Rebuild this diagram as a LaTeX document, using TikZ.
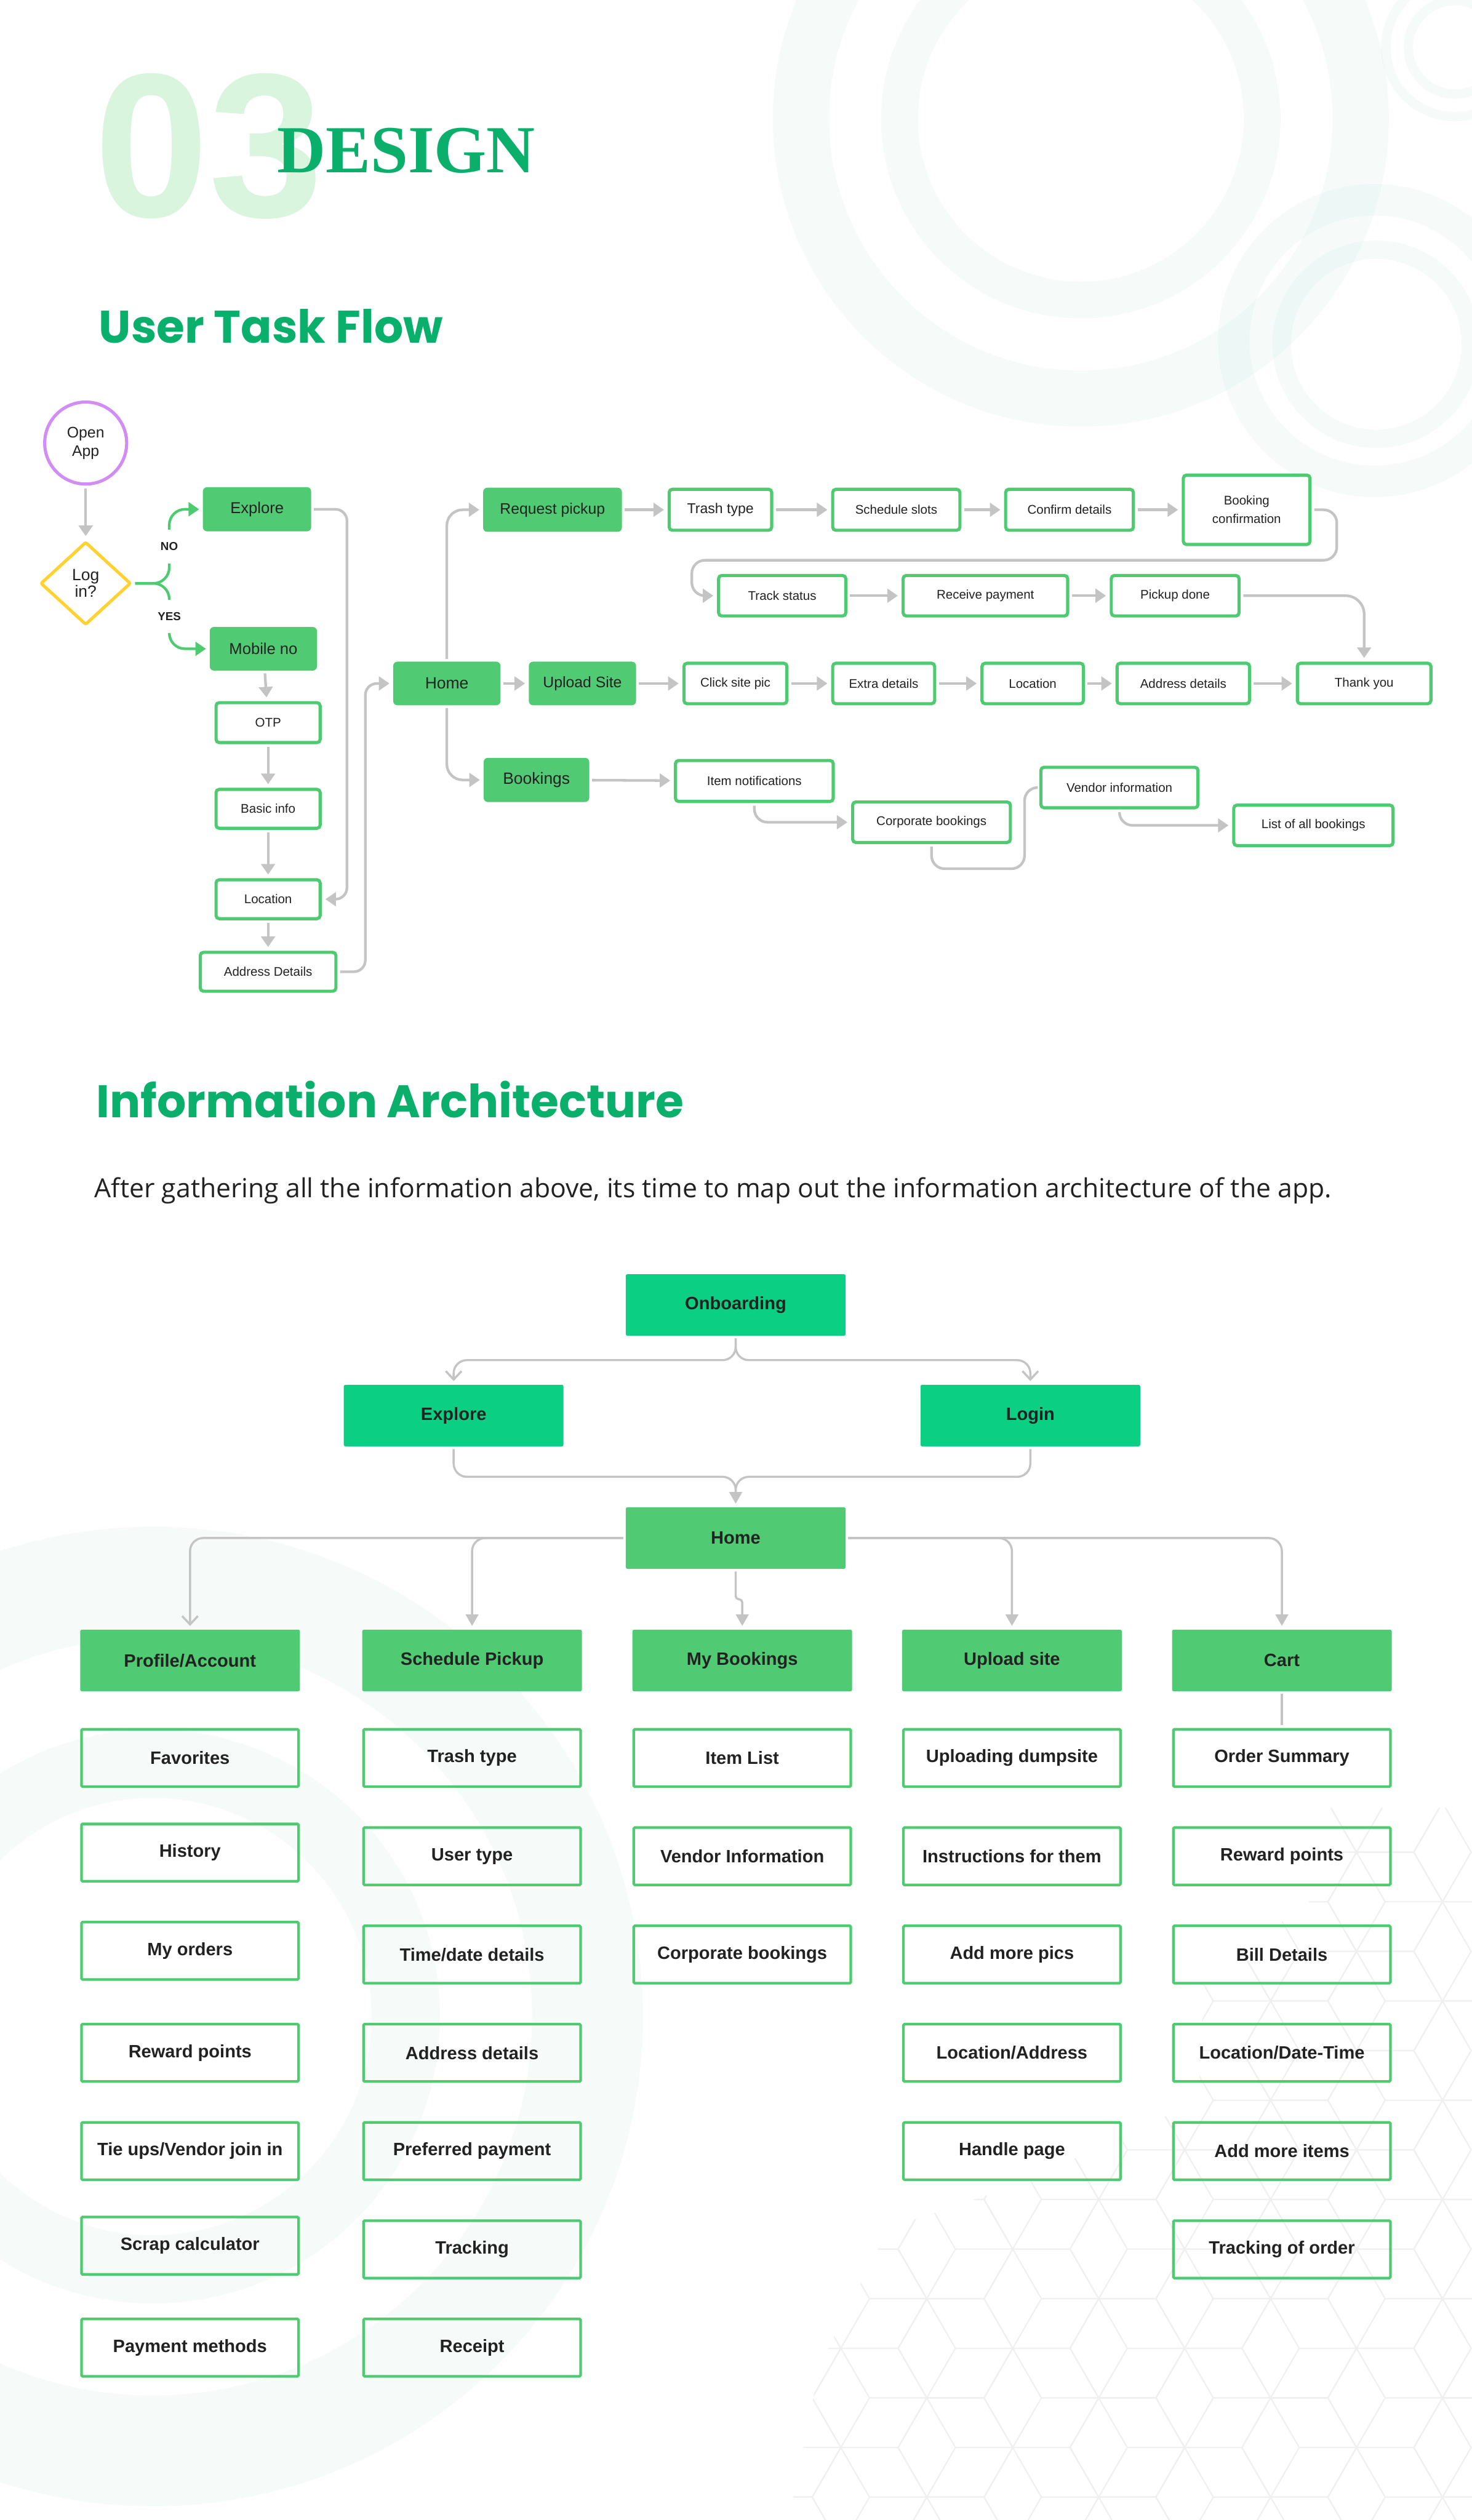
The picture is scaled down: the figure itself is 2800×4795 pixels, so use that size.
\documentclass[tikz,border=0pt]{standalone}
\usepackage{fontspec}
\setmainfont{Liberation Sans}
\newfontfamily\titlefont{Poppins}
\newfontfamily\serifbold{Liberation Serif}
\newfontfamily\parafont{Open Sans}
\usetikzlibrary{arrows.meta,shapes.geometric}
\definecolor{fgreen}{HTML}{50CB74}
\definecolor{sgreen}{HTML}{4ECB71}
\definecolor{tgreen}{HTML}{0BCF83}
\definecolor{titlegreen}{HTML}{0BAF6C}
\definecolor{palegreen}{HTML}{D9F5DE}
\definecolor{ink}{HTML}{222222}
\definecolor{conn}{HTML}{C4C4C4}
\definecolor{purp}{HTML}{D18CF6}
\definecolor{yell}{HTML}{FFD131}
\definecolor{ringc}{RGB}{0,150,140}
\definecolor{hexc}{HTML}{F0F0F0}
\newcommand{\fsz}[1]{\fontsize{#1}{#1}\selectfont}
\begin{document}
\begin{tikzpicture}[x=1pt,y=-1pt,
  tfbase/.style={text=ink, align=center, inner sep=0pt, font=\fsz{24}},
  tfill/.style={tfbase, fill=fgreen, rounded corners=8pt, font=\fsz{30}},
  tbox/.style={tfbase, draw=sgreen, line width=6pt, fill=white, rounded corners=6pt},
  arr/.style={draw=conn, line width=5pt, -{Triangle[length=20pt,width=26pt]}, shorten >=7pt, shorten <=5pt, rounded corners=25pt},
  cline/.style={draw=conn, line width=5pt, shorten <=5pt, rounded corners=25pt},
  garr/.style={draw=sgreen, line width=5pt, -{Triangle[length=20pt,width=26pt]}, shorten >=7pt, shorten <=5pt, rounded corners=30pt},
  lbl/.style={fill=white, font=\bfseries\fsz{22}, text=ink, minimum height=64pt, inner xsep=6pt, inner ysep=0pt},
  iafill/.style={fill=tgreen, text=ink, font=\bfseries\fsz{34}, minimum width=418pt, minimum height=117pt, rounded corners=3pt, inner sep=0pt},
  iahead/.style={iafill, fill=fgreen},
  iabox/.style={draw=sgreen, line width=5pt, text=ink, font=\bfseries\fsz{34}, minimum width=413pt, minimum height=109pt, rounded corners=2pt, inner sep=0pt},
  iarr/.style={draw=conn, line width=4pt, rounded corners=25pt, -{Triangle[length=22pt,width=24pt]}, shorten >=7pt, shorten <=5pt},
  iav/.style={draw=conn, line width=4pt, rounded corners=25pt, -{Straight Barb[length=16pt,width=30pt]}, shorten >=7pt, shorten <=5pt},
  ring/.style={draw=ringc, draw opacity=0.035},
  hexl/.style={draw=hexc, line width=2.5pt}
]
\useasboundingbox (0,0) rectangle (2800,4795);
\fill[white] (0,0) rectangle (2800,4795);

% ---------- background decoration ----------
\begin{scope}
\clip (0,0) rectangle (2800,4795);
\draw[ring, line width=107pt] (2056,226) circle[radius=532.5pt];
\draw[ring, line width=70pt] (2056,226) circle[radius=345pt];
\draw[ring, line width=60pt] (2615,648) circle[radius=268pt];
\draw[ring, line width=35pt] (2618,655) circle[radius=180pt];
\draw[ring, line width=18pt] (2768,90) circle[radius=132pt];
\draw[ring, line width=18pt] (2768,90) circle[radius=89pt];
\draw[ring, line width=211pt] (291,3837) circle[radius=826.5pt];
\draw[ring, line width=130pt] (291,3837) circle[radius=481pt];
\end{scope}
\begin{scope}
\clip (2800,3440) -- (2520,3440) -- (2490,3620) -- (2290,3760) -- (2280,4000) -- (2140,4060) -- (1960,4150) -- (1690,4240) -- (1560,4500) -- (1500,4795) -- (2800,4795) -- cycle;
\foreach \m in {-5,...,6}{
  \foreach \n in {-8,...,6}{
    \pgfmathsetmacro\cx{1981+163.5*\m}
    \pgfmathsetmacro\cy{4185+94.4*\m+188.8*\n}
    \draw[hexl] (\cx+109,\cy) -- ++(-54.5,94.4) -- ++(-109,0) -- ++(-54.5,-94.4) -- ++(54.5,-94.4) -- ++(109,0) -- cycle
      (\cx,\cy) -- ++(109,0) (\cx,\cy) -- ++(-54.5,94.4) (\cx,\cy) -- ++(-54.5,-94.4);
  }
}
\end{scope}

% ---------- header ----------
\node[anchor=base west, inner sep=0pt, text=palegreen, font=\bfseries\fsz{391}] (num) at (180,413) {03};
\node[anchor=base west, inner sep=0pt, text=titlegreen, font=\serifbold\bfseries\fsz{128}] (design) at (527,328) {DESIGN};
\node[anchor=base west, inner sep=0pt, text=titlegreen, font=\titlefont\bfseries\fsz{87}] (t1) at (188,653) {User Task Flow};

% ---------- user task flow ----------
\node[circle, draw=purp, line width=6pt, minimum size=156pt, inner sep=0pt, text=ink, align=center, font=\fontsize{29}{35}\selectfont] (open) at (163,843) {Open\\App};
\node[diamond, draw=yell, line width=6pt, minimum width=172pt, minimum height=158pt, inner sep=0pt, rounded corners=3pt, align=center, text=ink, font=\fontsize{31}{32}\selectfont] (login) at (163,1110) {Log\\in?};

\node[tfill, minimum width=206pt, minimum height=84pt] (explore) at (489,969) {Explore};
\node[tfill, minimum width=204pt, minimum height=83pt] (mobile) at (501,1234.5) {Mobile no};
\node[tbox, minimum width=198pt, minimum height=76pt] (otp) at (510,1375) {OTP};
\node[tbox, minimum width=198pt, minimum height=74pt] (basic) at (510,1539) {Basic info};
\node[tbox, minimum width=198pt, minimum height=74pt] (loc1) at (510,1711) {Location};
\node[tbox, minimum width=258pt, minimum height=74pt] (addr1) at (510,1849) {Address Details};

\node[tfill, minimum width=204pt, minimum height=83pt, font=\fsz{31}] (home) at (850,1300.5) {Home};
\node[tfill, minimum width=264pt, minimum height=84pt, font=\fsz{29}] (req) at (1051,970) {Request pickup};
\node[tbox, minimum width=195pt, minimum height=78pt, font=\fsz{27}] (trash) at (1370.5,970) {Trash type};
\node[tbox, minimum width=242pt, minimum height=78pt] (sched) at (1705,970) {Schedule slots};
\node[tbox, minimum width=243pt, minimum height=78pt] (confirm) at (2034.5,970) {Confirm details};
\node[tbox, minimum width=241pt, minimum height=132pt, font=\fontsize{24}{35}\selectfont] (booking) at (2371.5,970) {Booking\\confirmation};
\node[tbox, minimum width=242pt, minimum height=77pt] (track) at (1488,1133.5) {Track status};
\node[tbox, minimum width=313pt, minimum height=77pt] (receive) at (1874.5,1133.5) {Receive payment};
\node[tbox, minimum width=243pt, minimum height=77pt] (pickup) at (2235.5,1133.5) {Pickup done};

\node[tfill, minimum width=204pt, minimum height=83pt, font=\fsz{29}] (upload) at (1108,1300.5) {Upload Site};
\node[tbox, minimum width=196pt, minimum height=77pt] (click) at (1399,1300.5) {Click site pic};
\node[tbox, minimum width=194pt, minimum height=77pt] (extra) at (1681,1300.5) {Extra details};
\node[tbox, minimum width=193pt, minimum height=77pt] (loc2) at (1964.5,1300.5) {Location};
\node[tbox, minimum width=252pt, minimum height=77pt] (addr2) at (2251,1300.5) {Address details};
\node[tbox, minimum width=254pt, minimum height=77pt] (thank) at (2595,1300.5) {Thank you};

\node[tfill, minimum width=201pt, minimum height=84pt, font=\fsz{31}] (bookings) at (1020.5,1484) {Bookings};
\node[tbox, minimum width=300pt, minimum height=78pt] (itemn) at (1435,1486) {Item notifications};
\node[tbox, minimum width=300pt, minimum height=77pt] (corp) at (1772,1564.5) {Corporate bookings};
\node[tbox, minimum width=299pt, minimum height=77pt] (vendor) at (2129.5,1498.5) {Vendor information};
\node[tbox, minimum width=303pt, minimum height=77pt] (listall) at (2498.5,1570.5) {List of all bookings};

% connectors (task flow)
\draw[arr, shorten <=6pt, shorten >=8pt] (open) -- (login);
\draw[garr] (login.east) -- (322,1110) -- (322,969) -- (explore.west);
\draw[garr] (login.east) -- (322,1110) -- (322,1234.5) -- (mobile.west);
\node[lbl] (nolbl) at (322,1040) {NO};
\node[lbl] (yeslbl) at (322,1173) {YES};
\draw[arr] (mobile) -- (otp);
\draw[arr] (otp) -- (basic);
\draw[arr] (basic) -- (loc1);
\draw[arr] (loc1) -- (addr1);
\draw[arr, rounded corners=22pt] (explore.east) -- (660,969) -- (660,1711) -- (loc1.east);
\draw[arr, rounded corners=22pt] (addr1.east) -- (695,1849) -- (695,1300.5) -- (home.west);
\draw[arr, rounded corners=30pt] (home.north) -- (850,970) -- (req.west);
\draw[arr, rounded corners=30pt] (home.south) -- (850,1484) -- (bookings.west);
\draw[arr] (home) -- (upload);
\draw[arr] (req) -- (trash);
\draw[arr] (trash) -- (sched);
\draw[arr] (sched) -- (confirm);
\draw[arr] (confirm) -- (booking);
\draw[arr] (booking.east) -- (2543,970) -- (2543,1066) -- (1316,1066) -- (1316,1133.5) -- (track.west);
\draw[arr] (track) -- (receive);
\draw[arr] (receive) -- (pickup);
\draw[arr, rounded corners=35pt] (pickup.east) -- (2595,1133.5) -- (thank.north);
\draw[arr] (upload) -- (click);
\draw[arr] (click) -- (extra);
\draw[arr] (extra) -- (loc2);
\draw[arr] (loc2) -- (addr2);
\draw[arr] (addr2) -- (thank);
\draw[arr] (bookings) -- (itemn);
\draw[arr] (itemn.south) -- (1435,1564.5) -- (corp.west);
\draw[cline, shorten >=4pt] (corp.south) -- (1772,1653) -- (1949,1653) -- (1949,1498.5) -- (vendor.west);
\draw[arr] (vendor.south) -- (2129.5,1570.5) -- (listall.west);

% ---------- information architecture ----------
\node[anchor=base west, inner sep=0pt, text=titlegreen, font=\titlefont\bfseries\fsz{87}] (t2) at (183,2127) {Information Architecture};
\node[anchor=base west, inner sep=0pt, text=ink, font=\parafont\fsz{50}] (para) at (180,2279) {After gathering all the information above, its time to map out the information architecture of the app.};

\node[iafill] (onb) at (1399.5,2483) {Onboarding};
\node[iafill] (iaexp) at (863,2693.5) {Explore};
\node[iafill] (ialogin) at (1960,2693.5) {Login};
\node[iahead] (iahome) at (1399.5,2926.5) {Home};

\node[iahead] (h1) at (361.5,3159.5) {Profile/Account};
\node[iahead] (h2) at (898,3159.5) {Schedule Pickup};
\node[iahead] (h3) at (1412,3159.5) {My Bookings};
\node[iahead] (h4) at (1925,3159.5) {Upload site};
\node[iahead] (h5) at (2438.5,3159.5) {Cart};

\node[iabox] (a1) at (361.5,3345) {Favorites};
\node[iabox] (a2) at (361.5,3525) {History};
\node[iabox] (a3) at (361.5,3712) {My orders};
\node[iabox] (a4) at (361.5,3906) {Reward points};
\node[iabox] (a5) at (361.5,4093) {Tie ups/Vendor join in};
\node[iabox] (a6) at (361.5,4273) {Scrap calculator};
\node[iabox] (a7) at (361.5,4467) {Payment methods};

\node[iabox] (b1) at (898,3345) {Trash type};
\node[iabox] (b2) at (898,3532) {User type};
\node[iabox] (b3) at (898,3719) {Time/date details};
\node[iabox] (b4) at (898,3906) {Address details};
\node[iabox] (b5) at (898,4093) {Preferred payment};
\node[iabox] (b6) at (898,4280) {Tracking};
\node[iabox] (b7) at (898,4467) {Receipt};

\node[iabox] (c1) at (1412,3345) {Item List};
\node[iabox] (c2) at (1412,3532) {Vendor Information};
\node[iabox] (c3) at (1412,3719) {Corporate bookings};

\node[iabox] (d1) at (1925,3345) {Uploading dumpsite};
\node[iabox] (d2) at (1925,3532) {Instructions for them};
\node[iabox] (d3) at (1925,3719) {Add more pics};
\node[iabox] (d4) at (1925,3906) {Location/Address};
\node[iabox] (d5) at (1925,4093) {Handle page};

\node[iabox] (e1) at (2438.5,3345) {Order Summary};
\node[iabox] (e2) at (2438.5,3532) {Reward points};
\node[iabox] (e3) at (2438.5,3719) {Bill Details};
\node[iabox] (e4) at (2438.5,3906) {Location/Date-Time};
\node[iabox] (e5) at (2438.5,4093) {Add more items};
\node[iabox] (e6) at (2438.5,4280) {Tracking of order};

% connectors (IA)
\draw[iav] (onb.south) -- (1399.5,2588) -- (863,2588) -- (iaexp.north);
\draw[iav] (onb.south) -- (1399.5,2588) -- (1960,2588) -- (ialogin.north);
\draw[iarr] (iaexp.south) -- (863,2810) -- (1399.5,2810) -- (iahome.north);
\draw[iarr] (ialogin.south) -- (1960,2810) -- (1399.5,2810) -- (iahome.north);
\draw[iav] (iahome.west) -- (361.5,2926.5) -- (h1.north);
\draw[iarr] (iahome.west) -- (898,2926.5) -- (h2.north);
\draw[iarr, rounded corners=6pt] (iahome.south) -- (1399.5,3043) -- (1412,3043) -- (h3.north);
\draw[iarr] (iahome.east) -- (1925,2926.5) -- (h4.north);
\draw[iarr] (iahome.east) -- (2438.5,2926.5) -- (h5.north);
\draw[draw=conn, line width=4pt, shorten <=5pt, shorten >=5pt] (h5.south) -- (e1.north);
\end{tikzpicture}
\end{document}
